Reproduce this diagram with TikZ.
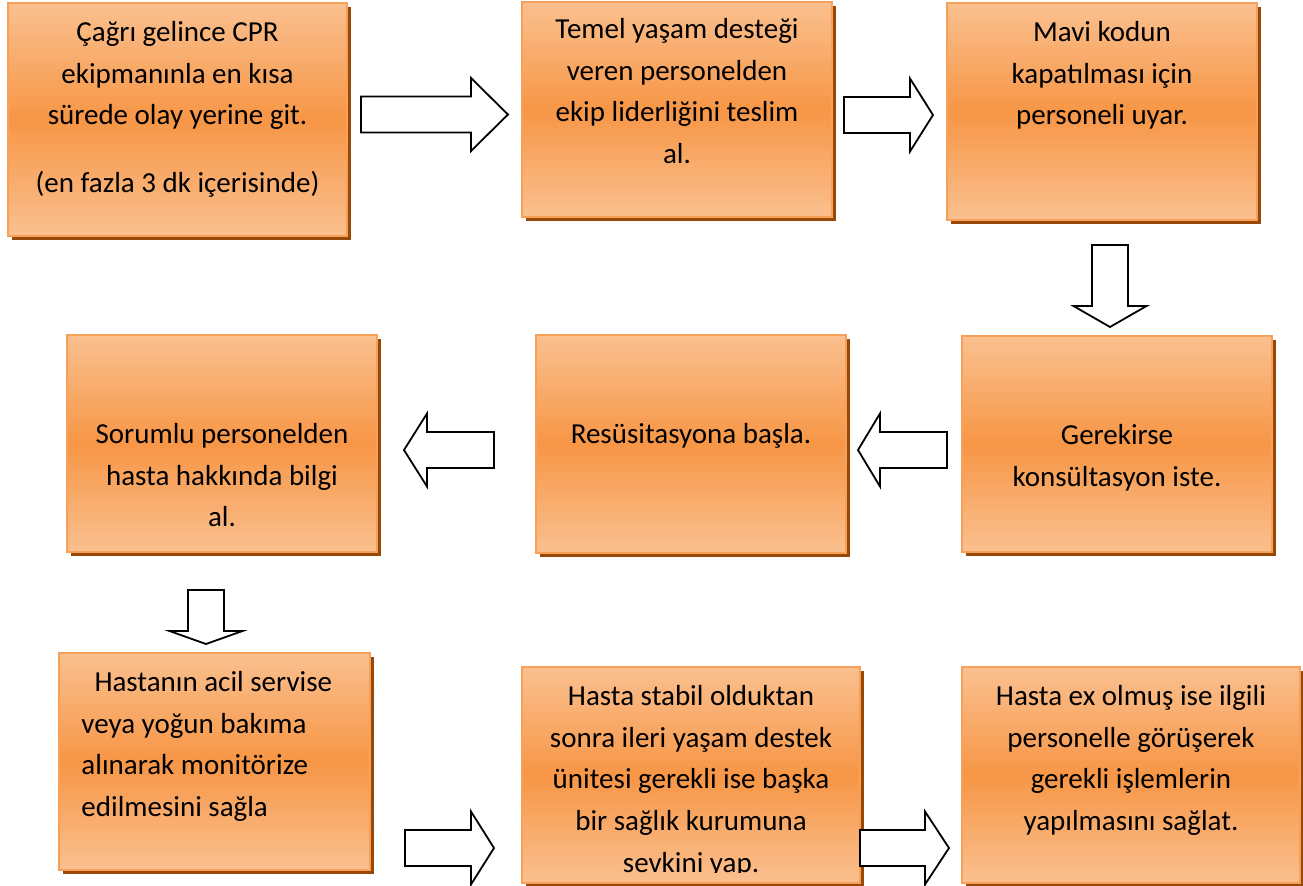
\documentclass[tikz,border=0pt]{standalone}
\usepackage{fontspec}
\setmainfont{Carlito}
\usetikzlibrary{positioning,shadows}

\definecolor{boxlight}{HTML}{FAC08F}
\definecolor{boxmid}{HTML}{F79646}
\definecolor{boxedge}{HTML}{F7A05A}
\definecolor{boxshadow}{HTML}{984807}

\tikzset{
  box/.style={rectangle, draw=boxedge, line width=0.9pt,
    top color=boxlight, bottom color=boxlight, middle color=boxmid,
    inner sep=0pt,
    drop shadow={fill=boxshadow, opacity=1, shadow xshift=1.8pt, shadow yshift=-2pt}},
  txt/.style={inner sep=0pt, align=center, font=\fontsize{14.5}{20.8}\selectfont},
  arrowshape/.style={draw=black, fill=white, line width=0.9pt, line join=miter}
}

% block arrow: tip, angle, length, head length
\newcommand{\blockarr}[4]{%
  \draw[arrowshape, shift={#1}, rotate=#2]
    (0,0) -- (-#4,-36.5) -- (-#4,-18) -- (-#3,-18) -- (-#3,18) -- (-#4,18) -- (-#4,36.5) -- cycle;}

\begin{document}
\begin{tikzpicture}[x=0.5pt, y=-0.5pt]
    \clip (0,0) rectangle (1303,885);

    % boxes
    \node (b1) [box, minimum width=169.5pt, minimum height=116.5pt] at (177.5,119.5) {};
    \node (b2) [box, minimum width=155pt, minimum height=107.5pt] at (677,109.5) {};
    \node (b3) [box, minimum width=155pt, minimum height=108.5pt] at (1102,111.5) {};
    \node (b4) [box, minimum width=155pt, minimum height=108.5pt] at (222,443.5) {};
    \node (b5) [box, minimum width=155pt, minimum height=109pt] at (691,444) {};
    \node (b6) [box, minimum width=155pt, minimum height=108pt] at (1117,444) {};
    \node (b7) [box, minimum width=155.5pt, minimum height=108.5pt] at (214.5,761.5) {};
    \node (b8) [box, minimum width=169pt, minimum height=108pt] at (691,775) {};
    \node (b9) [box, minimum width=169pt, minimum height=108pt] at (1131,775) {};

    % texts
    \node (t1) [txt, below=5pt of b1.north] {\strut Çağrı gelince CPR\\ ekipmanınla en kısa\\ sürede olay yerine git.\\[13pt] (en fazla 3 dk içerisinde)};
    \node (t2) [txt, below=4pt of b2.north] {\strut Temel yaşam desteği\\ veren personelden\\ ekip liderliğini teslim\\ al.};
    \node (t3) [txt, below=5pt of b3.north] {\strut Mavi kodun\\ kapatılması için\\ personeli uyar.};
    \node (t4) [txt, below=40pt of b4.north] {\strut Sorumlu personelden\\ hasta hakkında bilgi\\ al.};
    \node (t5) [txt, below=40pt of b5.north] {\strut Resüsitasyona başla.};
    \node (t6) [txt, below=40pt of b6.north] {\strut Gerekirse\\ konsültasyon iste.};
    \node (t7) [txt, align=left, below right=5pt and 11.5pt of b7.north west] {\strut\hspace*{6.5pt}Hastanın acil servise\\ veya yoğun bakıma\\ alınarak monitörize\\ edilmesini sağla};
    \begin{scope}
      \clip (b8.north west) rectangle ([yshift=5.5pt]b8.south east);
      \node (t8) [txt, below=5pt of b8.north] {\strut Hasta stabil olduktan\\ sonra ileri yaşam destek\\ ünitesi gerekli ise başka\\ bir sağlık kurumuna\\ sevkini yap.};
    \end{scope}
    \node (t9) [txt, below=5pt of b9.north] {\strut Hasta ex olmuş ise ilgili\\ personelle görüşerek\\ gerekli işlemlerin\\ yapılmasını sağlat.};

    % arrows
    \blockarr{(508,114.5)}{0}{147}{37}
    \blockarr{(933,115)}{0}{89}{23}
    \blockarr{(1110,327)}{-90}{82}{21}
    \blockarr{(858,450)}{180}{89}{22}
    \blockarr{(404,450)}{180}{90}{23}
    \blockarr{(206,644)}{-90}{54}{13}
    \blockarr{(494,848)}{0}{89}{23}
    \blockarr{(949,848)}{0}{89}{24}
\end{tikzpicture}
\end{document}
